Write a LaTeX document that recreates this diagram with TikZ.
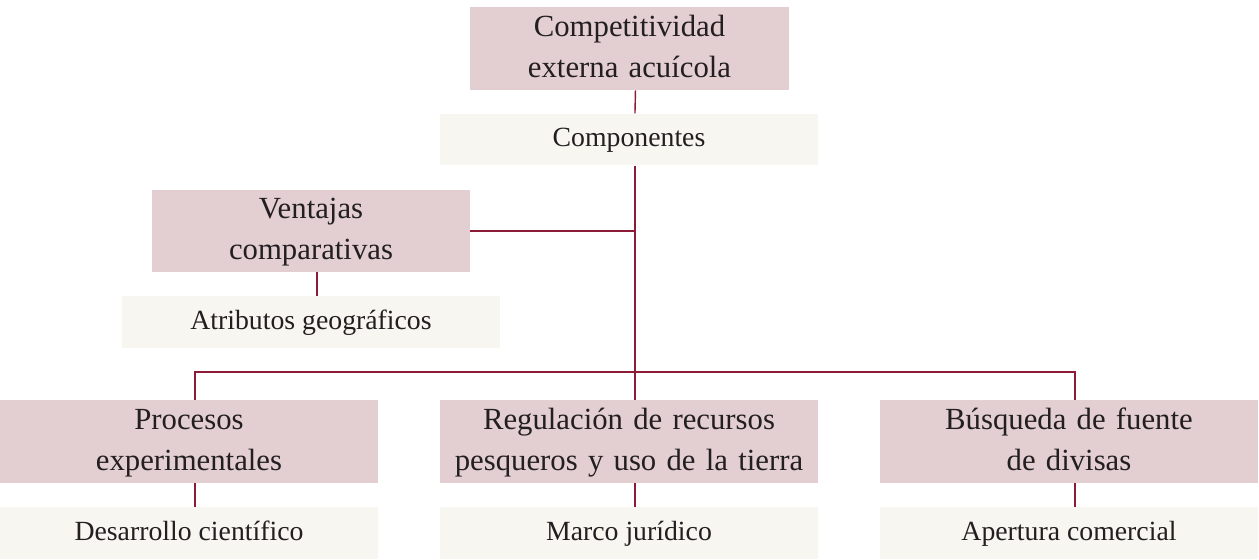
\documentclass[tikz,border=0pt]{standalone}
\usepackage{fontspec}
\setmainfont{Liberation Serif}
\usetikzlibrary{positioning, calc}

\definecolor{rosa}{HTML}{E3CED2}
\definecolor{crema}{HTML}{F7F6F1}
\definecolor{vino}{HTML}{8E1B36}
\definecolor{tinta}{HTML}{231F20}

\newcommand\dos[2]{\strut#1\\\strut#2}

\begin{document}
\begin{tikzpicture}[x=0.02cm, y=-0.02cm,
    titulo/.style={fill=rosa, minimum width=7.56cm, minimum height=1.66cm, text width=7.4cm,
      align=center, inner sep=0pt, font=\fontsize{17.5}{23.2}\selectfont, text=tinta},
    sub/.style={fill=crema, minimum width=7.56cm, minimum height=1.03cm, align=center,
      inner sep=0pt, font=\fontsize{15.8}{21}\selectfont, text=tinta},
    link/.style={draw=vino, line width=0.8pt}]
  \useasboundingbox (0,0) rectangle (1259,559);
  \def\dx{3.4pt}

  \node[titulo, minimum width=6.38cm, text width=6.2cm] (comp) at (629.5,48.5) {\dos{Competitividad}{externa acuícola}};
  \node[sub] (comps) at (629,139.5) {\strut Componentes};

  \node[titulo, minimum width=6.36cm, minimum height=1.64cm, text width=6.2cm] (vent) at (311,231) {\dos{Ventajas}{comparativas}};
  \node[sub] (attr) at (311,322) {\strut Atributos geográficos};

  \node[titulo] (proc) at (189,441.5) {\dos{Procesos}{experimentales}};
  \node[sub] (desa) at (189,533) {\strut Desarrollo científico};

  \node[titulo] (regu) at (629,441.5) {\dos{Regulación de recursos}{pesqueros y uso de la tierra}};
  \node[sub] (marco) at (629,533) {\strut Marco jurídico};

  \node[titulo] (busq) at (1069,441.5) {\dos{Búsqueda de fuente}{de divisas}};
  \node[sub] (aper) at (1069,533) {\strut Apertura comercial};

  \coordinate (bus) at (635,372);

  \draw[link] ([xshift=\dx]comp.south) -- ([xshift=\dx]comps.north);
  \draw[link] ([xshift=\dx]comps.south) -- ([xshift=\dx]regu.north);
  \draw[link] (vent.east) -- (vent.east -| bus);
  \draw[link] ([xshift=\dx]vent.south) -- ([xshift=\dx]attr.north);
  \draw[link] ([xshift=\dx]proc.north) |- (bus) -| ([xshift=\dx]busq.north);

  \draw[link] ([xshift=\dx]proc.south) -- ([xshift=\dx]desa.north);
  \draw[link] ([xshift=\dx]regu.south) -- ([xshift=\dx]marco.north);
  \draw[link] ([xshift=\dx]busq.south) -- ([xshift=\dx]aper.north);
\end{tikzpicture}
\end{document}
